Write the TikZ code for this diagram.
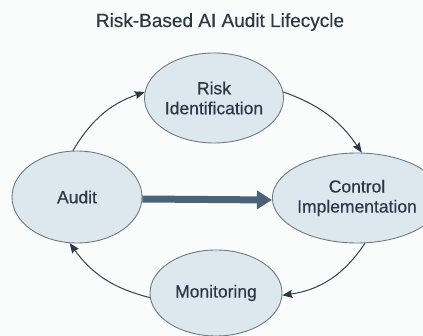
\documentclass[tikz,border=0pt]{standalone}
\usepackage{fontspec}
\setmainfont{Liberation Sans}[FakeBold=0.35]
\usetikzlibrary{shapes.geometric,arrows.meta}
\definecolor{bgcol}{HTML}{FAFBFB}
\definecolor{stagefill}{HTML}{DCE7EE}
\definecolor{stageedge}{HTML}{6F7A83}
\definecolor{inkcol}{HTML}{2A3846}
\definecolor{linkcol}{HTML}{3D4852}
\definecolor{tipcol}{HTML}{26384A}
\definecolor{flowcol}{HTML}{4B6378}
\tikzset{
  stage/.style={ellipse, draw=stageedge, line width=0.9pt, fill=stagefill,
    inner sep=0pt, text=inkcol, align=center,
    font=\fontsize{17.5}{20}\selectfont},
  cyclelink/.style={draw=linkcol, line width=1.05pt,
    -{Stealth[length=10pt,width=8pt,inset=1.5pt,fill=tipcol,color=tipcol]}},
  mainflow/.style={draw=flowcol, line width=7pt,
    -{Triangle[length=15pt,width=18pt,fill=flowcol,color=flowcol]}},
}
\begin{document}
\begin{tikzpicture}[x=1pt,y=-1pt]
  \fill[bgcol] (0,0) rectangle (423,336);
  \useasboundingbox (0,0) rectangle (423,336);

  % title
  \node[text=inkcol, font=\fontsize{19}{22}\selectfont, anchor=base] (title) at (220,27) {Risk-Based AI Audit Lifecycle};

  % lifecycle stages
  \node[stage, minimum width=126pt, minimum height=90pt] (risk) at (214,98) {Risk\\Identification};
  \node[stage, minimum width=130pt, minimum height=92pt] (audit) at (77,197) {Audit};
  \node[stage, minimum width=130pt, minimum height=90pt] (control) at (357,198) {Control\\Implementation};
  \node[stage, minimum width=132pt, minimum height=86pt] (monitor) at (216,293) {Monitoring};

  % cycle connectors
  \draw[cyclelink] (audit.95) to[bend left=20] (risk.175);
  \draw[cyclelink] (risk.5) to[bend left=18] (control.84);
  \draw[cyclelink] (control.280) to[bend left=24] (monitor.358);
  \draw[cyclelink] (monitor.184) to[bend left=20] (audit.261);

  % direct audit-to-control flow
  \draw[mainflow] ([yshift=-2pt]audit.east) -- ([yshift=-2pt]control.west);
\end{tikzpicture}
\end{document}
